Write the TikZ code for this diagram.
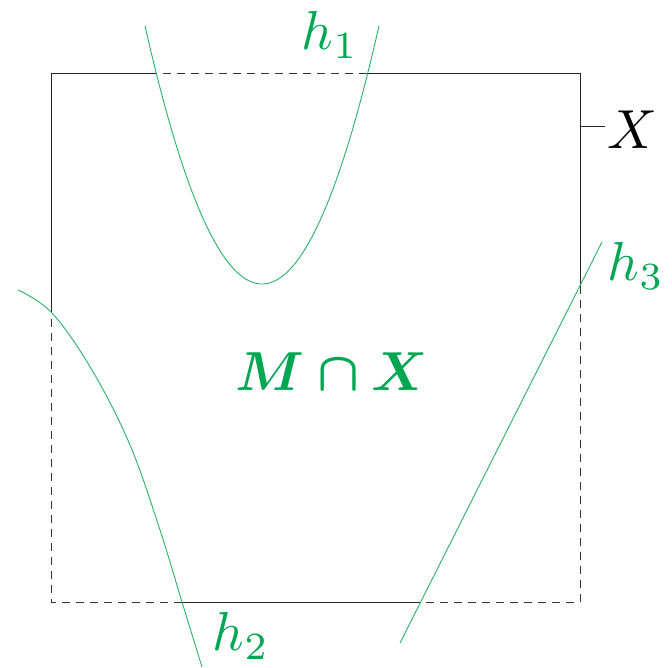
\documentclass[tikz,border=0pt]{standalone}
\usepackage{graphicx}
\usepackage{bm}
\definecolor{mgreen}{RGB}{0,166,81}
\definecolor{lgreen}{RGB}{40,178,100}
\newcommand{\bigtxt}[1]{\scalebox{5.5}{#1}}
\tikzset{
  boxdash/.style={draw=black!80, line width=0.9pt, dash pattern=on 8pt off 6pt},
  boxsolid/.style={draw=black!85, line width=0.9pt},
  hcurve/.style={draw=lgreen, line width=0.9pt},
  glabel/.style={text=mgreen, inner sep=0pt},
  blabel/.style={text=black, inner sep=0pt}
}
\begin{document}
\begin{tikzpicture}[x=1pt,y=-1pt]
\useasboundingbox (0,0) rectangle (672,667);
% square X
\coordinate (tl) at (51,73);
\coordinate (tr) at (580,73);
\coordinate (br) at (580,602);
\coordinate (bl) at (51,602);
\draw[boxdash] (tl) -- (tr) -- (br) -- (bl) -- cycle;
% intersection points
\coordinate (p1) at (156,73);
\coordinate (p2) at (368,73);
\coordinate (p3) at (580,286);
\coordinate (p4) at (420,602);
\coordinate (p5) at (182,602);
\coordinate (p6) at (51,313);
\draw[boxsolid] (p6) -- (tl) -- (p1);
\draw[boxsolid] (p2) -- (tr) -- (p3);
\draw[boxsolid] (p4) -- (p5);
% h1 parabola
\draw[hcurve] plot[domain=-117:117, samples=80] ({262+\x},{284-0.01886*\x*\x});
% h2 curve
\draw[hcurve] plot[smooth, tension=0.6] coordinates {(18,290) (52,313) (92,370) (130,445) (160,530) (182,602) (202,667)};
% h3 line
\coordinate (h3a) at (400,643);
\coordinate (h3b) at (602,242);
\draw[hcurve] (h3a) -- (h3b);
% labels
\node[glabel] (lh1) at (330,35) {\bigtxt{$h_1$}};
\node[glabel] (lh2) at (241,636) {\bigtxt{$h_2$}};
\node[glabel] (lh3) at (636,266) {\bigtxt{$h_3$}};
\node[blabel] (lX) at (632,130) {\bigtxt{$X$}};
\node[glabel] (lM) at (332,372) {\bigtxt{$\bm{M\cap X}$}};
\coordinate (xt) at (580,126);
\draw[draw=black!85, line width=0.9pt] (xt) -- (605,126);
\end{tikzpicture}
\end{document}
